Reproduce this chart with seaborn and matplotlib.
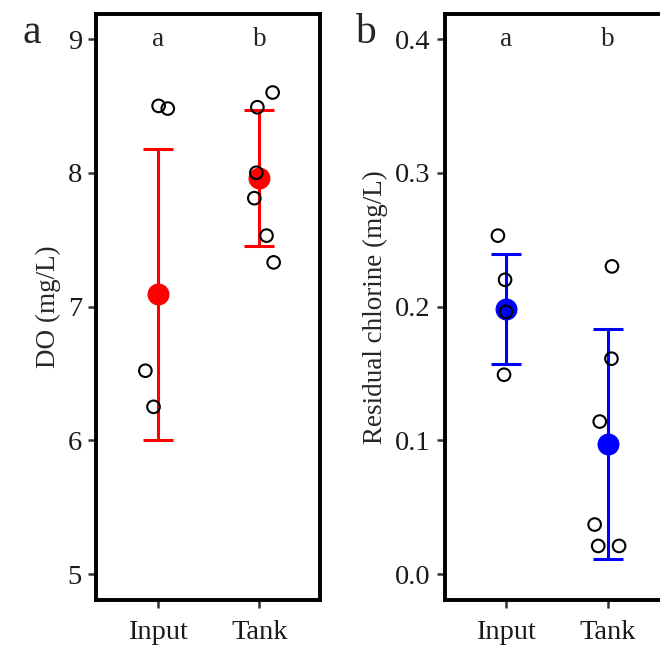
import pandas as pd
import matplotlib
matplotlib.use("Agg")
import matplotlib.pyplot as plt
import seaborn as sns

groups = ["Input", "Tank"]

# panel a - DO (mg/L)
do_input = [8.50, 8.48, 6.52, 6.25]
do_input_jit = [0.01, 0.10, -0.12, -0.04]
do_tank = [8.49, 8.60, 8.00, 7.81, 7.53, 7.33]
do_tank_jit = [-0.02, 0.13, -0.03, -0.05, 0.07, 0.14]
do_mean = [7.09, 7.96]
do_sd = [1.09, 0.51]
do_letters = ["a", "b"]

# panel b - residual chlorine (mg/L)
cl_input = [0.253, 0.220, 0.196, 0.149]
cl_input_jit = [-0.08, -0.01, 0.0, -0.02]
cl_tank = [0.230, 0.161, 0.114, 0.037, 0.021, 0.021]
cl_tank_jit = [0.04, 0.035, -0.08, -0.13, -0.095, 0.11]
cl_mean = [0.198, 0.097]
cl_sd = [0.041, 0.086]
cl_letters = ["a", "b"]


def make_df(inp, inp_jit, tank, tank_jit):
    df = pd.DataFrame({
        "group": ["Input"] * len(inp) + ["Tank"] * len(tank),
        "value": inp + tank,
        "jit": inp_jit + tank_jit,
    })
    df["x"] = df["group"].map({g: i for i, g in enumerate(groups)}) + df["jit"]
    return df


sns.set_theme(style="ticks")
plt.rcParams["font.family"] = ["Liberation Serif", "DejaVu Serif"]

fig = plt.figure(figsize=(6.6, 6.45), dpi=100)
ax1 = fig.add_axes([0.1462, 0.0698, 0.3394, 0.9085])
ax2 = fig.add_axes([0.6742, 0.0698, 0.3394, 0.9085])

panels = [
    (ax1, make_df(do_input, do_input_jit, do_tank, do_tank_jit), do_mean, do_sd,
     do_letters, "red", "DO (mg/L)", (4.806, 9.187), [5, 6, 7, 8, 9], "{:.0f}", 9.0),
    (ax2, make_df(cl_input, cl_input_jit, cl_tank, cl_tank_jit), cl_mean, cl_sd,
     cl_letters, "blue", "Residual chlorine (mg/L)", (-0.0194, 0.4187),
     [0.0, 0.1, 0.2, 0.3, 0.4], "{:.1f}", 0.4),
]

for ax, df, mean, sd, letters, col, ylab, ylim, yticks, fmt, ytext in panels:
    xs = list(range(len(groups)))
    ax.errorbar(xs, mean, yerr=sd, fmt="none", ecolor=col, elinewidth=2.2,
                capsize=11, capthick=2.2, zorder=2)
    sns.scatterplot(x=xs, y=mean, color=col, s=250, linewidth=0, ax=ax, zorder=3)
    sns.scatterplot(data=df, x="x", y="value", s=82, facecolor="none",
                    edgecolor="black", linewidth=1.5, ax=ax, zorder=4)
    for i, lab in enumerate(letters):
        ax.text(i, ytext, lab, ha="center", va="center", fontsize=19.5)

    ax.set_xlim(-0.6, 1.6)
    ax.set_ylim(*ylim)
    ax.set_xticks(xs)
    ax.set_xticklabels(groups)
    ax.set_yticks(yticks)
    ax.set_yticklabels([fmt.format(v) for v in yticks])
    ax.set_xlabel("")
    ax.set_ylabel(ylab, fontsize=19.5, labelpad=5)
    ax.tick_params(axis="both", direction="out", length=5.5, width=1.8,
                   color="#333333", labelsize=20.5, labelcolor="#1a1a1a",
                   bottom=True, left=True)
    ax.tick_params(axis="y", pad=5)
    ax.tick_params(axis="x", pad=9)
    for sp in ax.spines.values():
        sp.set_visible(True)
        sp.set_color("black")
        sp.set_linewidth(2.8)

fig.text(32 / 660, 1 - 43 / 645, "a", fontsize=30, ha="center", va="baseline")
fig.text(365 / 660, 1 - 43 / 645, "b", fontsize=30, ha="center", va="baseline")

fig.savefig("out.png", dpi=100)
